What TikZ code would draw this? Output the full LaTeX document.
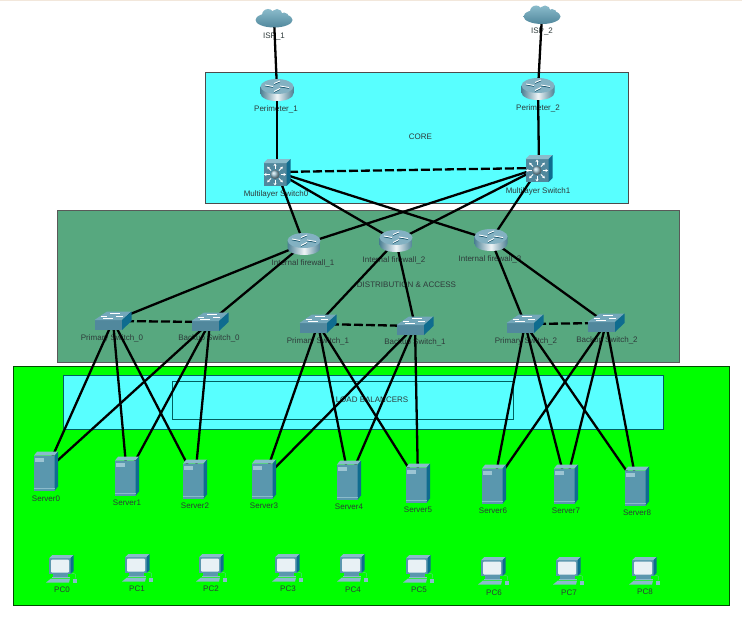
\documentclass[tikz,border=0pt]{standalone}
\usepackage{fontspec}
\setmainfont{Liberation Sans}
\usepackage{xcolor}
\usetikzlibrary{arrows.meta}
\definecolor{corecyan}{HTML}{58FFFF}
\definecolor{distgreen}{HTML}{57A87F}
\definecolor{langreen}{HTML}{00FF00}
\definecolor{devfront}{HTML}{5A97AE}
\definecolor{devtop}{HTML}{8ABBCB}
\definecolor{devside}{HTML}{0F6C8F}
\definecolor{txtgrey}{HTML}{2E3A3A}
\tikzset{
  lbl/.style={font=\fontsize{8}{9}\selectfont,text=txtgrey,inner sep=0pt},
  wire/.style={line width=2.3pt,black},
  dashwire/.style={wire,dash pattern=on 9pt off 3pt},
  panel/.style={line width=0.8pt},
  routernode/.style={minimum width=33pt,minimum height=22pt,inner sep=0pt},
  switchnode/.style={minimum width=37pt,minimum height=18pt,inner sep=0pt},
  mlsnode/.style={minimum width=27pt,minimum height=27pt,inner sep=0pt},
  servernode/.style={minimum width=24pt,minimum height=39pt,inner sep=0pt},
  pcnode/.style={minimum width=32pt,minimum height=28pt,inner sep=0pt},
  cloudnode/.style={minimum width=37pt,minimum height=19pt,inner sep=0pt},
  cloudpic/.pic={
    \shade[top color=devtop,bottom color=devfront!90!black]
      (0,1.5) ellipse (18.5 and 7.5) (-6,-3.5) circle (6) (3,-4) circle (5.5) (10,-1) circle (5);
  },
  routerpic/.pic={
    \shade[left color=devfront!85!black,right color=devfront!85!black,middle color=white!90!devfront]
      (-16.5,-3.5) -- (-16.5,3.5) .. controls (-16.5,13.5) and (16.5,13.5) .. (16.5,3.5)
      -- (16.5,-3.5) -- cycle;
    \fill[devfront!75!white] (0,-3.5) ellipse (16.5 and 7.5);
    \foreach \xa/\ya/\xb/\yb in {-12/-5/-4/-3.5,3/-9/-3/-6.5,12/-2.5/3/-4,-3/1.5/3/-1.5}{
      \draw[devside!70!black,line width=0.9pt] (\xa,\ya+0.8) -- (\xb,\yb+0.8);
      \draw[white,line width=0.9pt] (\xa,\ya) -- (\xb,\yb);
    }
  },
  switchpic/.pic={
    \fill[devfront!90!black] (-18.5,-1) rectangle (9,9);
    \fill[devfront!85!white] (-18.5,-1) -- (9,-1) -- (18.5,-9.5) -- (-6,-9.5) -- cycle;
    \fill[devside] (9,-1) -- (18.5,-9.5) -- (18.5,0) -- (9,9) -- cycle;
    \draw[white,line width=0.7pt] (-10,-3) -- (0,-3) (-3,-7.5) -- (7,-7.5) (-12,-5) -- (-6,-5) (3,-5) -- (10,-5);
  },
  mlspic/.pic={
    \fill[devfront!90!black] (-13.5,-9) rectangle (9.5,14);
    \fill[devtop] (-13.5,-9) -- (-9.5,-13) -- (13.5,-13) -- (9.5,-9) -- cycle;
    \fill[devside] (9.5,-9) -- (13.5,-13) -- (13.5,10) -- (9.5,14) -- cycle;
    \foreach \ang in {0,45,...,315}
      \draw[white,line width=0.8pt,-{Stealth[length=2.5pt,width=3pt]}]
        (-2,2.5) ++(\ang:5.5) -- ++(\ang:5.5);
    \shade[ball color=devfront!60!white] (-2,2.5) circle (4.5);
  },
  serverpic/.pic={
    \fill[devfront] (-12,-15.5) rectangle (8.7,19.5);
    \fill[devtop] (-12,-15.5) -- (-8.7,-19.5) -- (12,-19.5) -- (8.7,-15.5) -- cycle;
    \fill[devside] (8.7,-15.5) -- (12,-19.5) -- (12,15.5) -- (8.7,19.5) -- cycle;
    \fill[devtop!85!white] (-11,-13) rectangle (-2,-9.5);
    \fill[devtop] (-12,17) rectangle (8.7,17.8);
  },
  pcpic/.pic={
    \fill[devfront] (-12.7,-11) rectangle (8.7,5);
    \fill[devtop] (-12.7,-11) -- (-9.7,-14) -- (11.7,-14) -- (8.7,-11) -- cycle;
    \fill[devside] (8.7,-11) -- (11.7,-14) -- (11.7,2) -- (8.7,5) -- cycle;
    \fill[white!80!devtop,rounded corners=1pt] (-11,-9.3) rectangle (7,3.5);
    \fill[devfront] (-9,5) rectangle (6,8);
    \fill[devtop] (-10.5,8) rectangle (7.5,9.2);
    \fill[devtop] (-16,13.5) -- (7,13.5) -- (8,9.5) -- (-11,9.5) -- cycle;
    \draw[devtop!70!langreen,line width=0.4pt] (8.7,5) .. controls (13,3) and (15,6) .. (13,9.5);
    \fill[devtop] (11,9.5) rectangle (15,13.5);
  },
}
\begin{document}
\begin{tikzpicture}[x=1pt,y=-1pt]
\useasboundingbox (0,0) rectangle (742,618);
\fill[white] (0,0) rectangle (742,618);
\fill[orange!10!white!90!gray] (0,0) rectangle (742,1.5);
% panels
\path[panel,draw=black!70,fill=corecyan] (205.5,72) rectangle (628,203);
\path[panel,draw=black!65,fill=distgreen] (57,210) rectangle (679,362);
\path[panel,draw=black!70!green,fill=langreen] (13,366) rectangle (729,605);
\path[panel,draw=teal!75!black,fill=corecyan] (63,375) rectangle (663,429);
\path[panel,draw=teal!75!black] (172,381) rectangle (513,419);
\node[lbl] (coretxt) at (420.5,137) {CORE};
\node[lbl] (disttxt) at (406.5,285) {DISTRIBUTION \& ACCESS};
\node[lbl] (lbtxt) at (372,400) {LOAD BALANCERS};
% labels
\node[lbl] (isp1t) at (274,37) {ISP\_1};
\node[lbl] (isp2t) at (542,32) {ISP\_2};
\node[lbl] (per1t) at (276,109) {Perimeter\_1};
\node[lbl] (per2t) at (538,108) {Perimeter\_2};
\node[lbl] (ms0t) at (276,194) {Multilayer Switch0};
\node[lbl] (ms1t) at (538,191) {Multilayer Switch1};
\node[lbl] (fw1t) at (303,263) {Internal firewall\_1};
\node[lbl] (fw2t) at (394,260) {Internal firewall\_2};
\node[lbl] (fw3t) at (490,259) {Internal firewall\_3};
\node[lbl] (ps0t) at (112,338) {Primary Switch\_0};
\node[lbl] (bs0t) at (209,338) {Backup Switch\_0};
\node[lbl] (ps1t) at (318,341) {Primary Switch\_1};
\node[lbl] (bs1t) at (415,342) {Backup Switch\_1};
\node[lbl] (ps2t) at (526,341) {Primary Switch\_2};
\node[lbl] (bs2t) at (607,340) {Backup Switch\_2};
\node[lbl] (s0t) at (46,499) {Server0};
\node[lbl] (s1t) at (127,503) {Server1};
\node[lbl] (s2t) at (195,506) {Server2};
\node[lbl] (s3t) at (264,506) {Server3};
\node[lbl] (s4t) at (349,507) {Server4};
\node[lbl] (s5t) at (418,510) {Server5};
\node[lbl] (s6t) at (493,511) {Server6};
\node[lbl] (s7t) at (566,511) {Server7};
\node[lbl] (s8t) at (637,513) {Server8};
\node[lbl] (pc0t) at (62,590) {PC0};
\node[lbl] (pc1t) at (137,589) {PC1};
\node[lbl] (pc2t) at (211,589) {PC2};
\node[lbl] (pc3t) at (288,589) {PC3};
\node[lbl] (pc4t) at (353,590) {PC4};
\node[lbl] (pc5t) at (419,590) {PC5};
\node[lbl] (pc6t) at (494,593) {PC6};
\node[lbl] (pc7t) at (569,593) {PC7};
\node[lbl] (pc8t) at (645,592) {PC8};
% devices
\node[cloudnode] (isp1) at (274,18.5) {};
\node[cloudnode] (isp2) at (542,15) {};
\node[routernode] (per1) at (277,90) {};
\node[routernode] (per2) at (538,89) {};
\node[mlsnode] (ms0) at (277,172) {};
\node[mlsnode] (ms1) at (539,168) {};
\node[routernode] (fw1) at (304,244) {};
\node[routernode] (fw2) at (396,241) {};
\node[routernode] (fw3) at (491,240) {};
\node[switchnode] (ps0) at (113,321) {};
\node[switchnode] (bs0) at (210,322) {};
\node[switchnode] (ps1) at (318,324) {};
\node[switchnode] (bs1) at (415,326) {};
\node[switchnode] (ps2) at (525,324) {};
\node[switchnode] (bs2) at (606,323) {};
\node[servernode] (s0) at (46,471) {};
\node[servernode] (s1) at (127,476) {};
\node[servernode] (s2) at (195,479) {};
\node[servernode] (s3) at (264,479) {};
\node[servernode] (s4) at (349,480) {};
\node[servernode] (s5) at (418,483) {};
\node[servernode] (s6) at (494,484) {};
\node[servernode] (s7) at (566,484) {};
\node[servernode] (s8) at (637,486) {};
\node[pcnode] (pc0) at (62,569) {};
\node[pcnode] (pc1) at (138,568) {};
\node[pcnode] (pc2) at (212,568) {};
\node[pcnode] (pc3) at (288,568) {};
\node[pcnode] (pc4) at (353,568) {};
\node[pcnode] (pc5) at (419,569) {};
\node[pcnode] (pc6) at (494,571) {};
\node[pcnode] (pc7) at (569,571) {};
\node[pcnode] (pc8) at (645,571) {};
% links
\foreach \a/\b in {isp1/per1,isp2/per2,per1/ms0,per2/ms1,ms0/fw1,ms0/fw2,ms0/fw3,ms1/fw1,ms1/fw2,ms1/fw3,
  fw1/ps0,fw1/bs0,fw2/ps1,fw2/bs1,fw3/ps2,fw3/bs2,
  ps0/s0,ps0/s1,ps0/s2,bs0/s0,bs0/s1,bs0/s2,
  ps1/s3,ps1/s4,ps1/s5,bs1/s3,bs1/s4,bs1/s5,
  ps2/s6,ps2/s7,ps2/s8,bs2/s6,bs2/s7,bs2/s8}
  \draw[wire] (\a.center) -- (\b.center);
\foreach \a/\b in {ms0/ms1,ps0/bs0,ps1/bs1,ps2/bs2}
  \draw[dashwire] (\a.center) -- (\b.center);
% icons on top of the links
\foreach \n in {isp1,isp2} \pic at (\n) {cloudpic};
\foreach \n in {per1,per2,fw1,fw2,fw3} \pic at (\n) {routerpic};
\foreach \n in {ms0,ms1} \pic at (\n) {mlspic};
\foreach \n in {ps0,bs0,ps1,bs1,ps2,bs2} \pic at (\n) {switchpic};
\foreach \n in {s0,s1,s2,s3,s4,s5,s6,s7,s8} \pic at (\n) {serverpic};
\foreach \n in {pc0,pc1,pc2,pc3,pc4,pc5,pc6,pc7,pc8} \pic at (\n) {pcpic};
\end{tikzpicture}
\end{document}
